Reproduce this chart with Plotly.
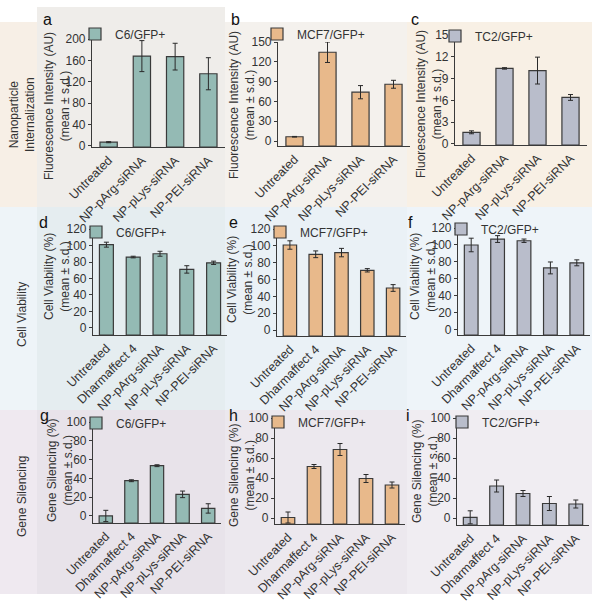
import plotly.graph_objects as go

# ---------------- data ----------------
cats4 = ["Untreated", "NP-pArg-siRNA", "NP-pLys-siRNA", "NP-PEI-siRNA"]
cats5 = ["Untreated", "Dharmaffect 4", "NP-pArg-siRNA", "NP-pLys-siRNA", "NP-PEI-siRNA"]

c6_internal = [7, 168, 167, 135]
c6_internal_sd = [1, 29, 25, 30]
mcf7_internal = [6.5, 134.5, 74, 86]
mcf7_internal_sd = [0.5, 15.5, 10, 6]
tc2_internal = [1.6, 10.4, 10.1, 6.4]
tc2_internal_sd = [0.2, 0.1, 1.85, 0.4]

c6_viability = [101, 86, 90, 71, 79]
c6_viability_sd = [3, 1, 3, 4.5, 2]
mcf7_viability = [101, 90, 92, 71, 50]
mcf7_viability_sd = [5, 4, 5, 2, 4]
tc2_viability = [100, 107, 105, 73, 79]
tc2_viability_sd = [8, 4, 2, 7, 3.5]

c6_silencing = [0, 37.5, 53.5, 23, 8]
c6_silencing_sd = [6, 1, 1, 3.5, 5]
mcf7_silencing = [0.5, 51.5, 68.5, 39.5, 33]
mcf7_silencing_sd = [5.5, 2, 6, 4, 3]
tc2_silencing = [0.7, 32, 24.5, 14.5, 14]
tc2_silencing_sd = [6.5, 6, 3, 7, 4]

cell_lines = ["C6/GFP+", "MCF7/GFP+", "TC2/GFP+"]
row_labels = ["Nanoparticle<br>Internalization", "Cell Viability", "Gene Silencing"]
y_titles = ["Fluorescence Intensity (AU)<br>(mean ± s.d.)",
            "Cell Viability (%)<br>(mean ± s.d.)",
            "Gene Silencing (%)<br>(mean ± s.d.)"]
panel_letters = ["a", "b", "c", "d", "e", "f", "g", "h", "i"]

# ---------------- styling / layout ----------------
W, H = 599, 601
FONT = "Liberation Sans, Arial, sans-serif"
colors = ["#94bab4", "#e8b98b", "#b9bdcb"]
edge = "#3a3a3a"


def fx(px):
    return px / W


def fy(py):
    return 1 - py / H


# per panel: x-domain px, y-domain px (top, bottom), y range, dtick,
# legend (x,y), letter (x,y), y-title centre (x,y)
panels = [
    (cats4, c6_internal, c6_internal_sd, 0, 0, (92, 225), (39, 147), (-2, 200), 40, (75, 34), (41, 20), (57, 106)),
    (cats4, mcf7_internal, mcf7_internal_sd, 1, 0, (278, 410), (42, 146), (-7.5, 150), 30, (257, 34), (229, 20), (242, 105)),
    (cats4, tc2_internal, tc2_internal_sd, 2, 0, (455, 587), (35, 145), (-0.15, 15), 3, (435, 36), (409, 20), (429, 104)),
    (cats5, c6_viability, c6_viability_sd, 0, 1, (93, 227), (229, 335), (-8.5, 120), 20, (76, 232), (37, 222), (57, 277)),
    (cats5, mcf7_viability, mcf7_viability_sd, 1, 1, (277, 406), (229, 336), (-7, 120), 20, (260, 232), (227, 222), (240, 280)),
    (cats5, tc2_viability, tc2_viability_sd, 2, 1, (458, 590), (228, 335), (-6, 120), 20, (441, 229), (406, 222), (423, 277)),
    (cats5, c6_silencing, c6_silencing_sd, 0, 2, (93, 221), (422, 523), (-7.5, 100), 20, (76, 423), (38, 415), (60, 471)),
    (cats5, mcf7_silencing, mcf7_silencing_sd, 1, 2, (275, 405), (418, 524), (-6, 100), 20, (258, 422), (227, 415), (242, 476)),
    (cats5, tc2_silencing, tc2_silencing_sd, 2, 2, (457, 589), (418, 525), (-7, 100), 20, (442, 422), (404, 415), (425, 472)),
]

fig = go.Figure()
layout = {}
annotations = []

for i, (cats, vals, sds, ci, ri, xd, yd, yr, dt, leg, let, yt) in enumerate(panels):
    n = i + 1
    xa = "x" if n == 1 else f"x{n}"
    ya = "y" if n == 1 else f"y{n}"
    lg = "legend" if n == 1 else f"legend{n}"
    ymin = yr[0]
    fig.add_trace(go.Bar(
        x=cats, y=[v - ymin for v in vals], base=ymin,
        customdata=vals,
        hovertemplate="%{x}: %{customdata}<extra></extra>",
        error_y=dict(type="data", array=sds, color="#2a2a2a", thickness=1, width=2.5),
        marker=dict(color=colors[ci], line=dict(color=edge, width=1.2)),
        width=0.52, name=cell_lines[ci], xaxis=xa, yaxis=ya,
        legend=lg, showlegend=True,
    ))
    layout["xaxis" if n == 1 else f"xaxis{n}"] = dict(
        domain=[fx(xd[0]), fx(xd[1])], anchor=ya, range=[-0.5, len(cats) - 0.5],
        showline=True, linecolor=edge, linewidth=1.2, ticks="", tickangle=-45,
        tickfont=dict(size=12.5, color="#333333", family=FONT),
        showgrid=False, zeroline=False, fixedrange=True, automargin=False,
    )
    layout["yaxis" if n == 1 else f"yaxis{n}"] = dict(
        domain=[fy(yd[1]), fy(yd[0])], anchor=xa, range=list(yr), tick0=0, dtick=dt,
        showline=True, linecolor=edge, linewidth=1.2, ticks="outside", ticklen=3,
        tickcolor=edge, tickfont=dict(size=12, color="#333333", family=FONT),
        showgrid=False, zeroline=False, fixedrange=True, automargin=False,
    )
    layout[lg] = dict(
        x=fx(leg[0]), y=fy(leg[1]), xanchor="left", yanchor="middle",
        bgcolor="rgba(0,0,0,0)", borderwidth=0,
        font=dict(size=12, color="#333333", family=FONT),
        itemwidth=30, tracegroupgap=0,
    )
    annotations.append(dict(
        x=fx(let[0]), y=fy(let[1]), xref="paper", yref="paper", text=panel_letters[i],
        showarrow=False, xanchor="left", yanchor="middle",
        font=dict(size=16, color="#111111", family=FONT),
    ))
    # y-axis title (two lines, rotated)
    annotations.append(dict(
        x=fx(yt[0]), y=fy(yt[1]), xref="paper", yref="paper", text=y_titles[ri],
        textangle=-90, showarrow=False, xanchor="center", yanchor="middle",
        font=dict(size=12, color="#333333", family=FONT),
    ))

# row labels
for (lx, lyc), txt in zip([(22, 115), (22, 315), (22, 497)], row_labels):
    annotations.append(dict(
        x=fx(lx), y=fy(lyc), xref="paper", yref="paper", text=txt, textangle=-90,
        showarrow=False, xanchor="center", yanchor="middle",
        font=dict(size=12, color="#333333", family=FONT),
    ))

# background bands
shapes = []
rows_px = [(7, 207), (207, 410), (410, 594)]
cols_px = [(0, 37), (37, 225), (225, 407), (407, 592)]
bg = [
    ["#f7efe6", "#efedea", "#f4f1ed", "#f8f0e5"],
    ["#eef4f8", "#e5edf0", "#eaf1f6", "#eef4f9"],
    ["#efe9f0", "#e8e3ea", "#ece8ee", "#f0edf2"],
]
for r, (y0, y1) in enumerate(rows_px):
    for c, (x0, x1) in enumerate(cols_px):
        top = y0
        if r == 0 and c != 1:
            top = 22
        shapes.append(dict(
            type="rect", xref="paper", yref="paper", layer="below",
            x0=fx(x0), x1=fx(x1), y0=fy(y1), y1=fy(top),
            fillcolor=bg[r][c], line=dict(width=0),
        ))

fig.update_layout(
    width=W, height=H, margin=dict(l=0, r=0, t=0, b=0, autoexpand=False),
    paper_bgcolor="white", plot_bgcolor="rgba(0,0,0,0)",
    font=dict(family=FONT, color="#333333"),
    bargap=0.4, annotations=annotations, shapes=shapes,
    **layout,
)

fig.write_html("out.html", config={"displayModeBar": False},
               post_script="document.body.style.margin='0';")
